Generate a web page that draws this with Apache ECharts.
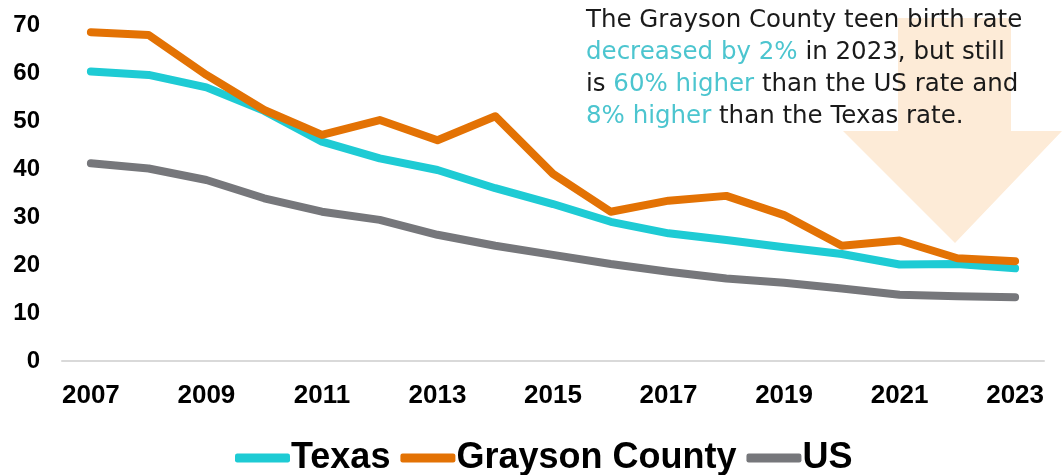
<!DOCTYPE html>
<html>
<head>
<meta charset="utf-8">
<script src="https://cdn.jsdelivr.net/npm/echarts@6/dist/echarts.min.js"></script>
<style>
  html, body { margin: 0; padding: 0; background: #fff; }
  #chart { width: 1062px; height: 475px; }
</style>
</head>
<body>
<div id="chart"></div>
<script>
// teen birth rate per 1,000
const years = ['2007', '2008', '2009', '2010', '2011', '2012', '2013', '2014', '2015',
  '2016', '2017', '2018', '2019', '2020', '2021', '2022', '2023'];
const texas = [60.3, 59.6, 57.0, 52.1, 45.7, 42.2, 39.8, 36.0, 32.7, 29.0, 26.6, 25.2, 23.7, 22.3, 20.1, 20.2, 19.3];
const grayson = [68.5, 67.9, 59.6, 52.3, 47.1, 50.2, 46.0, 51.0, 39.0, 31.1, 33.4, 34.4, 30.4, 24.0, 25.1, 21.4, 20.8];
const us = [41.2, 40.1, 37.7, 33.9, 31.1, 29.4, 26.3, 24.0, 22.1, 20.2, 18.6, 17.2, 16.3, 15.1, 13.8, 13.5, 13.3];

const chart = echarts.init(document.getElementById('chart'));

const mkLine = (name, data, color) => ({
  name,
  type: 'line',
  data,
  symbol: 'none',
  z: 3,
  lineStyle: { color, width: 8, cap: 'round', join: 'round' },
  itemStyle: { color },
});

chart.setOption({
  animation: false,
  grid: { left: 62, right: 18, top: 25, bottom: 114 },
  legend: {
    bottom: -6,
    left: 230,
    itemWidth: 55,
    itemHeight: 9,
    itemGap: 10,
    icon: 'roundRect',
    textStyle: {
      fontFamily: 'Liberation Sans',
      fontWeight: 'bold',
      fontSize: 36,
      color: '#000',
      padding: [0, 0, 0, -4],
    },
    data: ['Texas', 'Grayson County', 'US'],
  },
  xAxis: {
    type: 'category',
    data: years,
    boundaryGap: true,
    axisLine: { lineStyle: { color: '#d9d9d9', width: 2 } },
    axisTick: { show: false },
    axisLabel: {
      interval: 1,
      color: '#000',
      fontFamily: 'Liberation Sans',
      fontWeight: 'bold',
      fontSize: 26,
      margin: 22,
    },
  },
  yAxis: {
    type: 'value',
    min: 0,
    max: 70,
    interval: 10,
    splitLine: { show: false },
    axisLine: { show: false },
    axisTick: { show: false },
    axisLabel: {
      color: '#000',
      fontFamily: 'Liberation Sans',
      fontWeight: 'bold',
      fontSize: 24,
      margin: 22,
    },
  },
  graphic: [
    {
      type: 'polygon',
      z: 0,
      silent: true,
      shape: {
        points: [[898, 18], [1011, 18], [1011, 131], [1062, 131], [955, 243], [843, 131], [898, 131]],
      },
      style: { fill: '#fdebd7' },
    },
    {
      type: 'text',
      z: 10,
      left: 586,
      top: 5,
      style: {
        text: 'The Grayson County teen birth rate\n{t|decreased by 2%} in 2023, but still\nis {t|60% higher} than the US rate and\n{t|8% higher} than the Texas rate.',
        fontFamily: 'DejaVu Sans',
        fontWeight: 'normal',
        fontSize: 24.5,
        lineHeight: 32,
        fill: '#1a1a1a',
        rich: {
          t: { fill: '#4cc5cf', fontFamily: 'DejaVu Sans', fontWeight: 'normal', fontSize: 24.5, lineHeight: 32 },
        },
      },
    },
  ],
  series: [
    mkLine('Texas', texas, '#1ecbd4'),
    mkLine('Grayson County', grayson, '#e37204'),
    mkLine('US', us, '#76777b'),
  ],
});
</script>
</body>
</html>
